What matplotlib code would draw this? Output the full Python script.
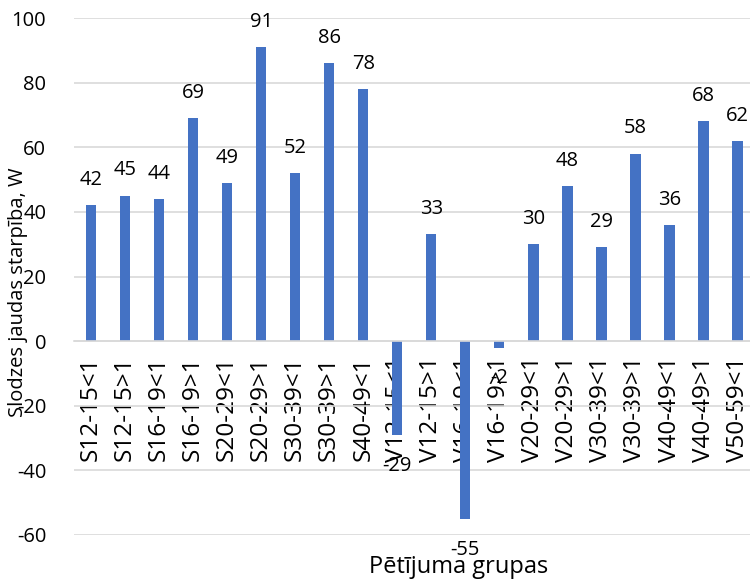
import numpy as np
import matplotlib.pyplot as plt

plt.rcParams['font.family'] = ['Open Sans', 'DejaVu Sans']

groups = ["S12-15<1", "S12-15>1", "S16-19<1", "S16-19>1", "S20-29<1",
          "S20-29>1", "S30-39<1", "S30-39>1", "S40-49<1", "V12-15<1",
          "V12-15>1", "V16-19<1", "V16-19>1", "V20-29<1", "V20-29>1",
          "V30-39<1", "V30-39>1", "V40-49<1", "V40-49>1", "V50-59<1"]
values = [42, 45, 44, 69, 49, 91, 52, 86, 78, -29,
          33, -55, -2, 30, 48, 29, 58, 36, 68, 62]
yticks = [-60, -40, -20, 0, 20, 40, 60, 80, 100]

FS = 14.5

fig = plt.figure(figsize=(7.5, 5.79), dpi=100)
ax = fig.add_axes([74 / 750, 44 / 579, 680.6 / 750, 517 / 579])

x = np.arange(len(groups))
ax.bar(x, values, width=0.3, color="#4472C4", zorder=2)

ax.set_xlim(-0.5, len(groups) - 0.5)
ax.set_ylim(-60, 100)
ax.set_yticks(yticks)
ax.set_yticklabels([str(t) for t in yticks], fontsize=FS)
ax.yaxis.grid(True, color="#D9D9D9", linewidth=1.2, zorder=0)
ax.tick_params(axis="y", length=0, pad=20)
ax.tick_params(axis="x", length=0, pad=11)

for s in ["left", "right", "top"]:
    ax.spines[s].set_visible(False)
ax.spines["bottom"].set_position(("data", 0))
ax.spines["bottom"].set_color("#D9D9D9")
ax.spines["bottom"].set_linewidth(1.2)

ax.set_xticks(x)
ax.set_xticklabels(groups, rotation=90, fontsize=17.5, va="top")
for lab in ax.get_xticklabels():
    lab.set_zorder(3)

for xi, v in zip(x, values):
    if v >= 0:
        ax.annotate(str(v), (xi, v), xytext=(0, 11), textcoords="offset points",
                    ha="center", va="bottom", fontsize=FS)
    else:
        ax.annotate(str(v), (xi, v), xytext=(0, -15), textcoords="offset points",
                    ha="center", va="top", fontsize=FS)

fig.text(18 / 750, 1 - 292 / 579, "Slodzes jaudas starpība, W", rotation=90,
         ha="center", va="center", fontsize=14.5)
fig.text(459 / 750, 1 - 567 / 579, "Pētījuma grupas", ha="center", va="center",
         fontsize=17)

fig.savefig("out.png", dpi=100)
